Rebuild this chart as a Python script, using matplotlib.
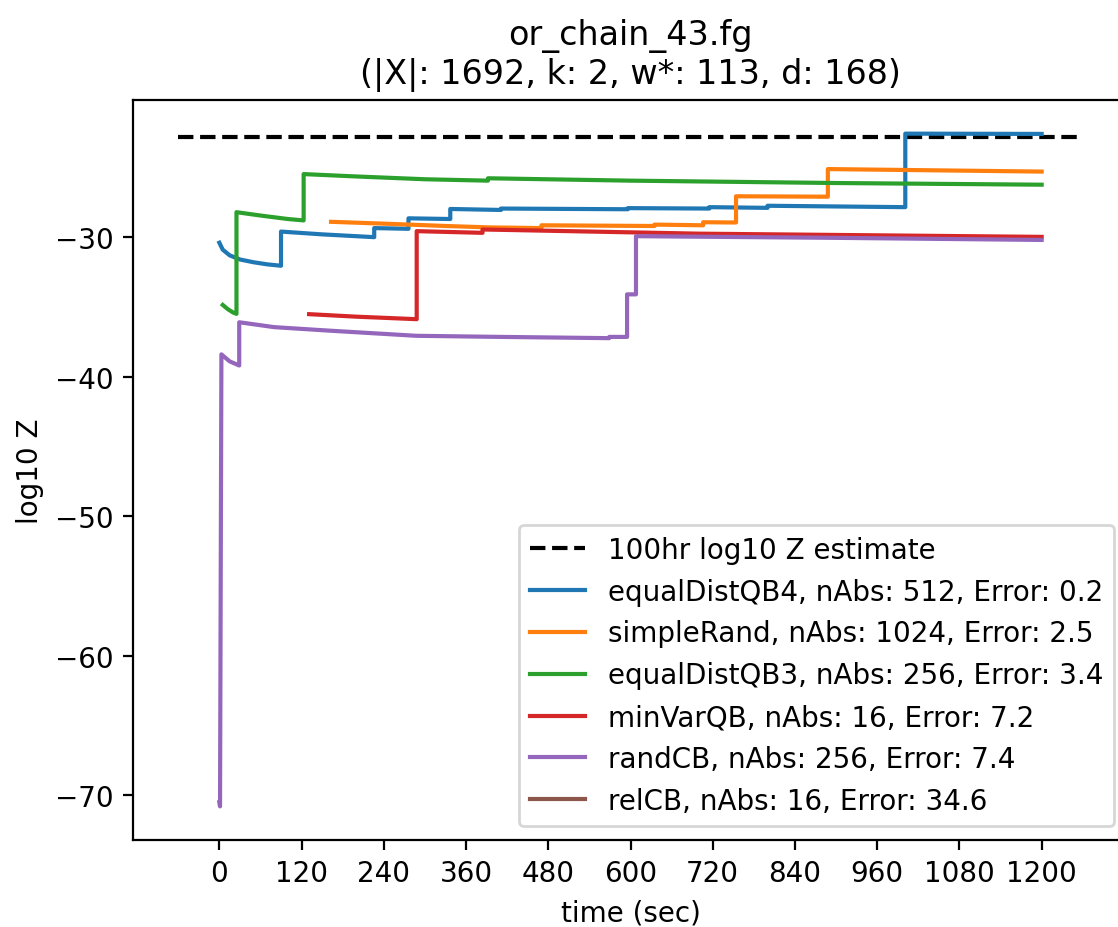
import matplotlib
matplotlib.use("Agg")
import matplotlib.pyplot as plt

title = "or_chain_43.fg\n(|X|: 1692, k: 2, w*: 113, d: 168)"
xticks = [0, 120, 240, 360, 480, 600, 720, 840, 960, 1080, 1200]

est_t = [-60, 1260]
est_v = [-22.79, -22.79]
est_label = "100hr log10 Z estimate"

blue_t = [0, 5, 15, 30, 50, 70, 90, 90, 150, 226, 226, 276, 276, 337, 337, 411, 411,
          596, 596, 715, 715, 800, 800, 1001, 1001, 1200]
blue_v = [-30.4, -30.9, -31.3, -31.6, -31.8, -31.95, -32.05, -29.6, -29.8, -30.0, -29.35,
          -29.4, -28.65, -28.7, -27.98, -28.05, -27.95, -28.0, -27.92, -27.95, -27.85,
          -27.9, -27.75, -27.85, -22.58, -22.6]
blue_label = "equalDistQB4, nAbs: 512, Error: 0.2"

orange_t = [163, 250, 330, 394, 470, 470, 635, 635, 706, 706, 754, 754, 888, 888, 1200]
orange_v = [-28.9, -29.05, -29.2, -29.3, -29.35, -29.15, -29.2, -29.1, -29.15, -28.93,
            -28.95, -27.07, -27.1, -25.12, -25.3]
orange_label = "simpleRand, nAbs: 1024, Error: 2.5"

green_t = [5, 12, 20, 25, 25, 60, 100, 123, 123, 200, 300, 392, 392, 600, 900, 1200]
green_v = [-34.86, -35.15, -35.4, -35.5, -28.21, -28.45, -28.7, -28.8, -25.48, -25.65,
           -25.85, -25.95, -25.78, -25.95, -26.12, -26.24]
green_label = "equalDistQB3, nAbs: 256, Error: 3.4"

red_t = [131, 200, 288, 288, 384, 384, 700, 1200]
red_v = [-35.52, -35.7, -35.88, -29.57, -29.69, -29.45, -29.75, -29.98]
red_label = "minVarQB, nAbs: 16, Error: 7.2"

purple_t = [0, 1, 3, 15, 29, 29, 80, 160, 287, 394, 569, 569, 595, 595, 608, 608, 900, 1200]
purple_v = [-70.5, -70.8, -38.4, -38.9, -39.2, -36.1, -36.45, -36.7, -37.07, -37.14,
            -37.24, -37.15, -37.15, -34.1, -34.1, -29.93, -30.05, -30.2]
purple_label = "randCB, nAbs: 256, Error: 7.4"

brown_t = []
brown_v = []
brown_label = "relCB, nAbs: 16, Error: 34.6"

fig = plt.figure(figsize=(11.18 / 2, 9.28 / 2), dpi=200)
ax = fig.add_axes([133 / 1118, 87 / 928, 995 / 1118, 740 / 928])

ax.plot(est_t, est_v, "k--", label=est_label)
ax.plot(blue_t, blue_v, color="#1f77b4", label=blue_label)
ax.plot(orange_t, orange_v, color="#ff7f0e", label=orange_label)
ax.plot(green_t, green_v, color="#2ca02c", label=green_label)
ax.plot(red_t, red_v, color="#d62728", label=red_label)
ax.plot(purple_t, purple_v, color="#9467bd", label=purple_label)
ax.plot(brown_t, brown_v, color="#8c564b", label=brown_label)

ax.set_xticks(xticks)
ax.set_xlabel("time (sec)")
ax.set_ylabel("log10 Z")
ax.set_title(title)
ax.legend(loc="lower right")

fig.savefig("out.png", dpi=200)
